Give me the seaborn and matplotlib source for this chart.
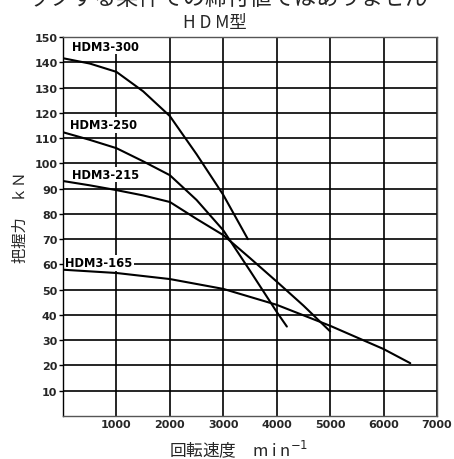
import matplotlib
matplotlib.use("Agg")
import matplotlib.pyplot as plt
import pandas as pd
import seaborn as sns

# Grip force curves per chuck model (rotation speed min^-1 vs grip force kN)
rpm_300 = [0, 500, 1000, 1500, 2000, 2500, 3000, 3460]
kn_300 = [141.6, 139.5, 136.2, 128.5, 118.7, 103.6, 87.5, 70.0]
rpm_250 = [0, 500, 1000, 1500, 2000, 2500, 3000, 3500, 4000, 4190]
kn_250 = [112.3, 109.3, 106.0, 100.8, 95.3, 85.5, 73.5, 57.5, 41.2, 35.4]
rpm_215 = [0, 500, 1000, 1500, 2000, 2500, 3000, 3500, 4000, 4500, 5000]
kn_215 = [93.0, 91.3, 89.4, 87.3, 84.7, 78.0, 71.6, 62.5, 53.2, 43.7, 33.5]
rpm_165 = [0, 1000, 2000, 3000, 4000, 5000, 6000, 6500]
kn_165 = [57.9, 56.6, 54.2, 50.3, 44.0, 35.7, 26.5, 20.9]

models = ["HDM3-300", "HDM3-250", "HDM3-215", "HDM3-165"]
# where each model name is written (rpm, kN)
label_x = [170, 130, 160, 40]
label_y = [146.4, 115.2, 95.6, 60.6]

x_ticks = [1000, 2000, 3000, 4000, 5000, 6000, 7000]
y_ticks = list(range(10, 151, 10))

title = "H D M型"
xlabel = "回転速度　m i n"
ylabel = "把握力　ｋＮ"
note = "ックする条件での締付値ではありません"

frames = []
for name, xs, ys in zip(models,
                        [rpm_300, rpm_250, rpm_215, rpm_165],
                        [kn_300, kn_250, kn_215, kn_165]):
    frames.append(pd.DataFrame({"rpm": xs, "kN": ys, "model": name}))
df = pd.concat(frames, ignore_index=True)

sns.set_theme(style="white")
plt.rcParams["font.family"] = ["Noto Sans CJK JP", "DejaVu Sans"]

fig = plt.figure(figsize=(4.54, 4.60), dpi=100)
ax = fig.add_axes([63 / 454, 1 - 417 / 460, 374 / 454, 379 / 460])

ax.set_xlim(0, 7000)
ax.set_ylim(0, 150)
ax.set_xticks(x_ticks)
ax.set_yticks(y_ticks)
ax.grid(True, color="black", linewidth=1.2, zorder=1)
ax.set_axisbelow(True)

sns.lineplot(data=df, x="rpm", y="kN", hue="model", units="model",
             estimator=None, sort=False, palette=["black"] * 4,
             linewidth=1.5, legend=False, ax=ax, zorder=3)

for name, lx, ly in zip(models, label_x, label_y):
    ax.text(lx, ly, name, ha="left", va="center", fontsize=8.3,
            fontweight="bold", family=["DejaVu Sans"], color="black",
            bbox=dict(boxstyle="square,pad=0.1", fc="white", ec="none"),
            zorder=2)

for lab in ax.get_xticklabels() + ax.get_yticklabels():
    lab.set_fontfamily(["DejaVu Sans"])
    lab.set_fontweight("bold")
    lab.set_fontsize(8)
ax.tick_params(axis="y", which="major", left=True, length=3, width=1,
               color="black", pad=1)
ax.tick_params(axis="x", which="major", bottom=True, length=0, pad=2)

ax.set_xlabel("")
ax.set_ylabel("")
for side, sp in ax.spines.items():
    sp.set_color("black" if side == "left" else "#555555")
    sp.set_linewidth(1.0)

fig.text(215 / 454, 1 - 23 / 460, title, ha="center", va="center",
         fontsize=12.5)
fig.text(239 / 454, 1 - 449 / 460, xlabel + "$^{-1}$", ha="center",
         va="center", fontsize=12)
fig.text(20 / 454, 1 - 217 / 460, ylabel, ha="center", va="center",
         rotation=90, fontsize=11)
fig.text(0.5, 1 + 2 / 460, note, ha="center", va="center", fontsize=16)

fig.savefig("out.png", dpi=100)
